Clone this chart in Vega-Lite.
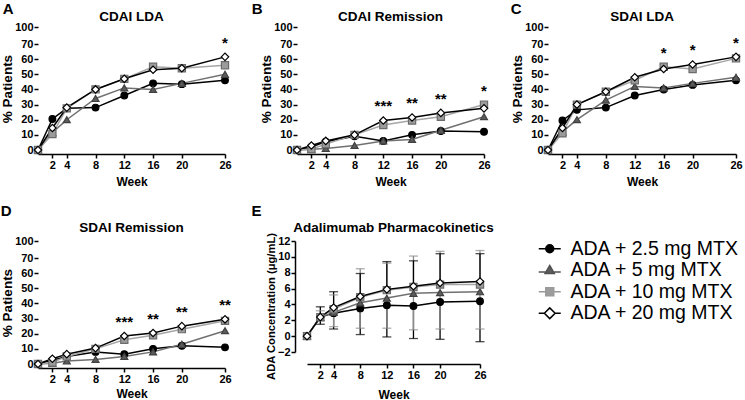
{
"$schema":"https://vega.github.io/schema/vega-lite/v6.json",
"padding":{"left":0,"top":1,"right":0,"bottom":0},
"spacing":16,
"resolve":{"scale":{"color":"independent","fill":"independent","stroke":"independent","shape":"independent","size":"independent"}},
"datasets":{
"pctA":[
{"series":"ADA + 2.5 mg MTX","week":0,"value":0},{"series":"ADA + 2.5 mg MTX","week":2,"value":20.5},{"series":"ADA + 2.5 mg MTX","week":4,"value":27.5},{"series":"ADA + 2.5 mg MTX","week":8,"value":28},{"series":"ADA + 2.5 mg MTX","week":12,"value":36},{"series":"ADA + 2.5 mg MTX","week":16,"value":44},{"series":"ADA + 2.5 mg MTX","week":20,"value":43.5},{"series":"ADA + 2.5 mg MTX","week":26,"value":46},
{"series":"ADA + 5 mg MTX","week":0,"value":0},{"series":"ADA + 5 mg MTX","week":2,"value":11.5},{"series":"ADA + 5 mg MTX","week":4,"value":20},{"series":"ADA + 5 mg MTX","week":8,"value":34},{"series":"ADA + 5 mg MTX","week":12,"value":41},{"series":"ADA + 5 mg MTX","week":16,"value":40},{"series":"ADA + 5 mg MTX","week":20,"value":44},{"series":"ADA + 5 mg MTX","week":26,"value":50},
{"series":"ADA + 10 mg MTX","week":0,"value":0},{"series":"ADA + 10 mg MTX","week":2,"value":10.5},{"series":"ADA + 10 mg MTX","week":4,"value":27.5},{"series":"ADA + 10 mg MTX","week":8,"value":40},{"series":"ADA + 10 mg MTX","week":12,"value":47},{"series":"ADA + 10 mg MTX","week":16,"value":55},{"series":"ADA + 10 mg MTX","week":20,"value":54},{"series":"ADA + 10 mg MTX","week":26,"value":56},
{"series":"ADA + 20 mg MTX","week":0,"value":0},{"series":"ADA + 20 mg MTX","week":2,"value":14.5},{"series":"ADA + 20 mg MTX","week":4,"value":28},{"series":"ADA + 20 mg MTX","week":8,"value":40},{"series":"ADA + 20 mg MTX","week":12,"value":47},{"series":"ADA + 20 mg MTX","week":16,"value":53},{"series":"ADA + 20 mg MTX","week":20,"value":54},{"series":"ADA + 20 mg MTX","week":26,"value":61.5}
],
"pctB":[
{"series":"ADA + 2.5 mg MTX","week":0,"value":0},{"series":"ADA + 2.5 mg MTX","week":2,"value":2},{"series":"ADA + 2.5 mg MTX","week":4,"value":5.5},{"series":"ADA + 2.5 mg MTX","week":8,"value":9},{"series":"ADA + 2.5 mg MTX","week":12,"value":6},{"series":"ADA + 2.5 mg MTX","week":16,"value":10},{"series":"ADA + 2.5 mg MTX","week":20,"value":12.5},{"series":"ADA + 2.5 mg MTX","week":26,"value":12},
{"series":"ADA + 5 mg MTX","week":0,"value":0},{"series":"ADA + 5 mg MTX","week":2,"value":0.5},{"series":"ADA + 5 mg MTX","week":4,"value":1},{"series":"ADA + 5 mg MTX","week":8,"value":3},{"series":"ADA + 5 mg MTX","week":12,"value":6},{"series":"ADA + 5 mg MTX","week":16,"value":7},{"series":"ADA + 5 mg MTX","week":20,"value":13},{"series":"ADA + 5 mg MTX","week":26,"value":22},
{"series":"ADA + 10 mg MTX","week":0,"value":0},{"series":"ADA + 10 mg MTX","week":2,"value":0.5},{"series":"ADA + 10 mg MTX","week":4,"value":4},{"series":"ADA + 10 mg MTX","week":8,"value":10},{"series":"ADA + 10 mg MTX","week":12,"value":16.5},{"series":"ADA + 10 mg MTX","week":16,"value":19.5},{"series":"ADA + 10 mg MTX","week":20,"value":22},{"series":"ADA + 10 mg MTX","week":26,"value":30},
{"series":"ADA + 20 mg MTX","week":0,"value":0},{"series":"ADA + 20 mg MTX","week":2,"value":3},{"series":"ADA + 20 mg MTX","week":4,"value":6},{"series":"ADA + 20 mg MTX","week":8,"value":10},{"series":"ADA + 20 mg MTX","week":12,"value":19.5},{"series":"ADA + 20 mg MTX","week":16,"value":21.5},{"series":"ADA + 20 mg MTX","week":20,"value":24.5},{"series":"ADA + 20 mg MTX","week":26,"value":27.5}
],
"pctC":[
{"series":"ADA + 2.5 mg MTX","week":0,"value":0},{"series":"ADA + 2.5 mg MTX","week":2,"value":19.5},{"series":"ADA + 2.5 mg MTX","week":4,"value":26.5},{"series":"ADA + 2.5 mg MTX","week":8,"value":28},{"series":"ADA + 2.5 mg MTX","week":12,"value":36},{"series":"ADA + 2.5 mg MTX","week":16,"value":40},{"series":"ADA + 2.5 mg MTX","week":20,"value":43},{"series":"ADA + 2.5 mg MTX","week":26,"value":46},
{"series":"ADA + 5 mg MTX","week":0,"value":0},{"series":"ADA + 5 mg MTX","week":2,"value":12},{"series":"ADA + 5 mg MTX","week":4,"value":20},{"series":"ADA + 5 mg MTX","week":8,"value":33},{"series":"ADA + 5 mg MTX","week":12,"value":42},{"series":"ADA + 5 mg MTX","week":16,"value":41},{"series":"ADA + 5 mg MTX","week":20,"value":44},{"series":"ADA + 5 mg MTX","week":26,"value":48},
{"series":"ADA + 10 mg MTX","week":0,"value":0},{"series":"ADA + 10 mg MTX","week":2,"value":11},{"series":"ADA + 10 mg MTX","week":4,"value":30},{"series":"ADA + 10 mg MTX","week":8,"value":38.5},{"series":"ADA + 10 mg MTX","week":12,"value":46},{"series":"ADA + 10 mg MTX","week":16,"value":55},{"series":"ADA + 10 mg MTX","week":20,"value":53.5},{"series":"ADA + 10 mg MTX","week":26,"value":60.5},
{"series":"ADA + 20 mg MTX","week":0,"value":0},{"series":"ADA + 20 mg MTX","week":2,"value":14.5},{"series":"ADA + 20 mg MTX","week":4,"value":30},{"series":"ADA + 20 mg MTX","week":8,"value":38.5},{"series":"ADA + 20 mg MTX","week":12,"value":48},{"series":"ADA + 20 mg MTX","week":16,"value":53.5},{"series":"ADA + 20 mg MTX","week":20,"value":56.5},{"series":"ADA + 20 mg MTX","week":26,"value":61.5}
],
"pctD":[
{"series":"ADA + 2.5 mg MTX","week":0,"value":0},{"series":"ADA + 2.5 mg MTX","week":2,"value":2.5},{"series":"ADA + 2.5 mg MTX","week":4,"value":5},{"series":"ADA + 2.5 mg MTX","week":8,"value":8},{"series":"ADA + 2.5 mg MTX","week":12,"value":6.5},{"series":"ADA + 2.5 mg MTX","week":16,"value":10},{"series":"ADA + 2.5 mg MTX","week":20,"value":12},{"series":"ADA + 2.5 mg MTX","week":26,"value":11},
{"series":"ADA + 5 mg MTX","week":0,"value":0},{"series":"ADA + 5 mg MTX","week":2,"value":0.5},{"series":"ADA + 5 mg MTX","week":4,"value":2},{"series":"ADA + 5 mg MTX","week":8,"value":3},{"series":"ADA + 5 mg MTX","week":12,"value":5},{"series":"ADA + 5 mg MTX","week":16,"value":8},{"series":"ADA + 5 mg MTX","week":20,"value":13},{"series":"ADA + 5 mg MTX","week":26,"value":22},
{"series":"ADA + 10 mg MTX","week":0,"value":0},{"series":"ADA + 10 mg MTX","week":2,"value":1},{"series":"ADA + 10 mg MTX","week":4,"value":5},{"series":"ADA + 10 mg MTX","week":8,"value":10},{"series":"ADA + 10 mg MTX","week":12,"value":16},{"series":"ADA + 10 mg MTX","week":16,"value":19},{"series":"ADA + 10 mg MTX","week":20,"value":23},{"series":"ADA + 10 mg MTX","week":26,"value":28.5},
{"series":"ADA + 20 mg MTX","week":0,"value":0},{"series":"ADA + 20 mg MTX","week":2,"value":3.5},{"series":"ADA + 20 mg MTX","week":4,"value":6.5},{"series":"ADA + 20 mg MTX","week":8,"value":10.5},{"series":"ADA + 20 mg MTX","week":12,"value":18.5},{"series":"ADA + 20 mg MTX","week":16,"value":20.5},{"series":"ADA + 20 mg MTX","week":20,"value":25},{"series":"ADA + 20 mg MTX","week":26,"value":29.5}
],
"starsA":[{"week":26,"stars":"*"}],
"starsB":[{"week":12,"stars":"***"},{"week":16,"stars":"**"},{"week":20,"stars":"**"},{"week":26,"stars":"*"}],
"starsC":[{"week":16,"stars":"*"},{"week":20,"stars":"*"},{"week":26,"stars":"*"}],
"starsD":[{"week":12,"stars":"***"},{"week":16,"stars":"**"},{"week":20,"stars":"**"},{"week":26,"stars":"**"}],
"pk":[
{"series":"ADA + 2.5 mg MTX","week":0,"mean":0,"err":null},{"series":"ADA + 2.5 mg MTX","week":2,"mean":2.4,"err":1.5},{"series":"ADA + 2.5 mg MTX","week":4,"mean":2.9,"err":0.9},{"series":"ADA + 2.5 mg MTX","week":8,"mean":3.5,"err":0.2},{"series":"ADA + 2.5 mg MTX","week":12,"mean":3.9,"err":-0.1},{"series":"ADA + 2.5 mg MTX","week":16,"mean":3.8,"err":-0.3},{"series":"ADA + 2.5 mg MTX","week":20,"mean":4.3,"err":-0.4},{"series":"ADA + 2.5 mg MTX","week":26,"mean":4.4,"err":-0.7},
{"series":"ADA + 5 mg MTX","week":0,"mean":0,"err":null},{"series":"ADA + 5 mg MTX","week":2,"mean":2.4,"err":1.9},{"series":"ADA + 5 mg MTX","week":4,"mean":3.0,"err":1.2},{"series":"ADA + 5 mg MTX","week":8,"mean":4.2,"err":1.0},{"series":"ADA + 5 mg MTX","week":12,"mean":4.8,"err":1.0},{"series":"ADA + 5 mg MTX","week":16,"mean":5.4,"err":0.8},{"series":"ADA + 5 mg MTX","week":20,"mean":5.5,"err":0.9},{"series":"ADA + 5 mg MTX","week":26,"mean":5.6,"err":0.9},
{"series":"ADA + 10 mg MTX","week":0,"mean":0,"err":null},{"series":"ADA + 10 mg MTX","week":2,"mean":2.4,"err":3.2},{"series":"ADA + 10 mg MTX","week":4,"mean":3.4,"err":5.2},{"series":"ADA + 10 mg MTX","week":8,"mean":4.9,"err":8.5},{"series":"ADA + 10 mg MTX","week":12,"mean":5.8,"err":9.2},{"series":"ADA + 10 mg MTX","week":16,"mean":6.2,"err":10.1},{"series":"ADA + 10 mg MTX","week":20,"mean":6.5,"err":10.7},{"series":"ADA + 10 mg MTX","week":26,"mean":6.5,"err":10.8},
{"series":"ADA + 20 mg MTX","week":0,"mean":0,"err":null},{"series":"ADA + 20 mg MTX","week":2,"mean":2.4,"err":3.7},{"series":"ADA + 20 mg MTX","week":4,"mean":3.6,"err":5.6},{"series":"ADA + 20 mg MTX","week":8,"mean":5.0,"err":7.9},{"series":"ADA + 20 mg MTX","week":12,"mean":5.9,"err":9.4},{"series":"ADA + 20 mg MTX","week":16,"mean":6.3,"err":9.5},{"series":"ADA + 20 mg MTX","week":20,"mean":6.7,"err":10.4},{"series":"ADA + 20 mg MTX","week":26,"mean":6.9,"err":10.4}
]
},
"vconcat":[
{"hconcat":[
{"title":{"text":"A","anchor":"start","frame":"bounds","fontSize":15,"offset":-7,"dx":2},
 "resolve":{"scale":{"color":"independent","fill":"independent","stroke":"independent","shape":"independent","size":"independent"}},
 "vconcat":[{
  "title":{"text":"CDAI LDA","fontSize":13.5,"offset":-2},
  "width":187,"height":123,
  "data":{"name":"pctA"},
  "encoding":{
   "x":{"field":"week","type":"quantitative","scale":{"domain":[0,26],"nice":false,"zero":false},"axis":{"values":[2,4,8,12,16,20,26],"title":"Week","offset":4,"titlePadding":6}},
   "y":{"field":"value","type":"quantitative","scale":{"domain":[0,70,100],"range":[123,17,0],"nice":false,"zero":false},"axis":{"values":[0,10,20,30,40,50,60,70,100],"title":"% Patients","titleFontSize":13.5,"domain":false,"titlePadding":0}}
  },
  "layer":[
   {"data":{"values":[{}]},"mark":{"type":"rule","color":"black","strokeWidth":1.5},"encoding":{"x":{"datum":0},"y":{"datum":0},"y2":{"datum":70}}},
   {"data":{"values":[{}]},"mark":{"type":"rule","color":"black","strokeWidth":1.5},"encoding":{"x":{"datum":0},"y":{"datum":93},"y2":{"datum":100}}},
   {"mark":{"type":"line","strokeWidth":1.5},"encoding":{"color":{"field":"series","type":"nominal","scale":{"domain":["ADA + 2.5 mg MTX","ADA + 5 mg MTX","ADA + 10 mg MTX","ADA + 20 mg MTX"],"range":["#000000","#707070","#a6a6a6","#000000"]},"legend":null}}},
   {"mark":{"type":"point","filled":true,"opacity":1,"strokeWidth":1.2},"encoding":{
     "shape":{"field":"series","type":"nominal","scale":{"domain":["ADA + 2.5 mg MTX","ADA + 5 mg MTX","ADA + 10 mg MTX","ADA + 20 mg MTX"],"range":["circle","triangle-up","square","diamond"]},"legend":null},
     "fill":{"field":"series","type":"nominal","scale":{"domain":["ADA + 2.5 mg MTX","ADA + 5 mg MTX","ADA + 10 mg MTX","ADA + 20 mg MTX"],"range":["#000000","#5c5c5c","#9c9c9c","#ffffff"]},"legend":null},
     "stroke":{"field":"series","type":"nominal","scale":{"domain":["ADA + 2.5 mg MTX","ADA + 5 mg MTX","ADA + 10 mg MTX","ADA + 20 mg MTX"],"range":["#000000","#404040","#6c6c6c","#000000"]},"legend":null},
     "size":{"field":"series","type":"nominal","scale":{"domain":["ADA + 2.5 mg MTX","ADA + 5 mg MTX","ADA + 10 mg MTX","ADA + 20 mg MTX"],"range":[45,55,49,80]},"legend":null}}},
   {"transform":[{"aggregate":[{"op":"max","field":"value","as":"top"}],"groupby":["week"]},{"lookup":"week","from":{"data":{"name":"starsA"},"key":"week","fields":["stars"]}},{"filter":"datum.stars != null"}],
    "mark":{"type":"text","fontSize":15,"fontWeight":"bold","dy":-9,"baseline":"alphabetic","color":"black"},"encoding":{"y":{"field":"top","type":"quantitative"},"text":{"field":"stars"}}}
  ]
 }]
},
{"title":{"text":"B","anchor":"start","frame":"bounds","fontSize":15,"offset":-7,"dx":-8},
 "resolve":{"scale":{"color":"independent","fill":"independent","stroke":"independent","shape":"independent","size":"independent"}},
 "vconcat":[{
  "title":{"text":"CDAI Remission","fontSize":13.5,"offset":-2},
  "width":187,"height":123,
  "data":{"name":"pctB"},
  "encoding":{
   "x":{"field":"week","type":"quantitative","scale":{"domain":[0,26],"nice":false,"zero":false},"axis":{"values":[2,4,8,12,16,20,26],"title":"Week","offset":4,"titlePadding":6}},
   "y":{"field":"value","type":"quantitative","scale":{"domain":[0,70,100],"range":[123,17,0],"nice":false,"zero":false},"axis":{"values":[0,10,20,30,40,50,60,70,100],"title":"% Patients","titleFontSize":13.5,"domain":false,"titlePadding":0}}
  },
  "layer":[
   {"data":{"values":[{}]},"mark":{"type":"rule","color":"black","strokeWidth":1.5},"encoding":{"x":{"datum":0},"y":{"datum":0},"y2":{"datum":70}}},
   {"data":{"values":[{}]},"mark":{"type":"rule","color":"black","strokeWidth":1.5},"encoding":{"x":{"datum":0},"y":{"datum":93},"y2":{"datum":100}}},
   {"mark":{"type":"line","strokeWidth":1.5},"encoding":{"color":{"field":"series","type":"nominal","scale":{"domain":["ADA + 2.5 mg MTX","ADA + 5 mg MTX","ADA + 10 mg MTX","ADA + 20 mg MTX"],"range":["#000000","#707070","#a6a6a6","#000000"]},"legend":null}}},
   {"mark":{"type":"point","filled":true,"opacity":1,"strokeWidth":1.2},"encoding":{
     "shape":{"field":"series","type":"nominal","scale":{"domain":["ADA + 2.5 mg MTX","ADA + 5 mg MTX","ADA + 10 mg MTX","ADA + 20 mg MTX"],"range":["circle","triangle-up","square","diamond"]},"legend":null},
     "fill":{"field":"series","type":"nominal","scale":{"domain":["ADA + 2.5 mg MTX","ADA + 5 mg MTX","ADA + 10 mg MTX","ADA + 20 mg MTX"],"range":["#000000","#5c5c5c","#9c9c9c","#ffffff"]},"legend":null},
     "stroke":{"field":"series","type":"nominal","scale":{"domain":["ADA + 2.5 mg MTX","ADA + 5 mg MTX","ADA + 10 mg MTX","ADA + 20 mg MTX"],"range":["#000000","#404040","#6c6c6c","#000000"]},"legend":null},
     "size":{"field":"series","type":"nominal","scale":{"domain":["ADA + 2.5 mg MTX","ADA + 5 mg MTX","ADA + 10 mg MTX","ADA + 20 mg MTX"],"range":[45,55,49,80]},"legend":null}}},
   {"transform":[{"aggregate":[{"op":"max","field":"value","as":"top"}],"groupby":["week"]},{"lookup":"week","from":{"data":{"name":"starsB"},"key":"week","fields":["stars"]}},{"filter":"datum.stars != null"}],
    "mark":{"type":"text","fontSize":15,"fontWeight":"bold","dy":-9,"baseline":"alphabetic","color":"black"},"encoding":{"y":{"field":"top","type":"quantitative"},"text":{"field":"stars"}}}
  ]
 }]
},
{"title":{"text":"C","anchor":"start","frame":"bounds","fontSize":15,"offset":-7,"dx":0},
 "resolve":{"scale":{"color":"independent","fill":"independent","stroke":"independent","shape":"independent","size":"independent"}},
 "vconcat":[{
  "title":{"text":"SDAI LDA","fontSize":13.5,"offset":-2},
  "width":188,"height":123,
  "data":{"name":"pctC"},
  "encoding":{
   "x":{"field":"week","type":"quantitative","scale":{"domain":[0,26],"nice":false,"zero":false},"axis":{"values":[2,4,8,12,16,20,26],"title":"Week","offset":4,"titlePadding":6}},
   "y":{"field":"value","type":"quantitative","scale":{"domain":[0,70,100],"range":[123,17,0],"nice":false,"zero":false},"axis":{"values":[0,10,20,30,40,50,60,70,100],"title":"% Patients","titleFontSize":13.5,"domain":false,"titlePadding":0}}
  },
  "layer":[
   {"data":{"values":[{}]},"mark":{"type":"rule","color":"black","strokeWidth":1.5},"encoding":{"x":{"datum":0},"y":{"datum":0},"y2":{"datum":70}}},
   {"data":{"values":[{}]},"mark":{"type":"rule","color":"black","strokeWidth":1.5},"encoding":{"x":{"datum":0},"y":{"datum":93},"y2":{"datum":100}}},
   {"mark":{"type":"line","strokeWidth":1.5},"encoding":{"color":{"field":"series","type":"nominal","scale":{"domain":["ADA + 2.5 mg MTX","ADA + 5 mg MTX","ADA + 10 mg MTX","ADA + 20 mg MTX"],"range":["#000000","#707070","#a6a6a6","#000000"]},"legend":null}}},
   {"mark":{"type":"point","filled":true,"opacity":1,"strokeWidth":1.2},"encoding":{
     "shape":{"field":"series","type":"nominal","scale":{"domain":["ADA + 2.5 mg MTX","ADA + 5 mg MTX","ADA + 10 mg MTX","ADA + 20 mg MTX"],"range":["circle","triangle-up","square","diamond"]},"legend":null},
     "fill":{"field":"series","type":"nominal","scale":{"domain":["ADA + 2.5 mg MTX","ADA + 5 mg MTX","ADA + 10 mg MTX","ADA + 20 mg MTX"],"range":["#000000","#5c5c5c","#9c9c9c","#ffffff"]},"legend":null},
     "stroke":{"field":"series","type":"nominal","scale":{"domain":["ADA + 2.5 mg MTX","ADA + 5 mg MTX","ADA + 10 mg MTX","ADA + 20 mg MTX"],"range":["#000000","#404040","#6c6c6c","#000000"]},"legend":null},
     "size":{"field":"series","type":"nominal","scale":{"domain":["ADA + 2.5 mg MTX","ADA + 5 mg MTX","ADA + 10 mg MTX","ADA + 20 mg MTX"],"range":[45,55,49,80]},"legend":null}}},
   {"transform":[{"aggregate":[{"op":"max","field":"value","as":"top"}],"groupby":["week"]},{"lookup":"week","from":{"data":{"name":"starsC"},"key":"week","fields":["stars"]}},{"filter":"datum.stars != null"}],
    "mark":{"type":"text","fontSize":15,"fontWeight":"bold","dy":-9,"baseline":"alphabetic","color":"black"},"encoding":{"y":{"field":"top","type":"quantitative"},"text":{"field":"stars"}}}
  ]
 }]
}
],"spacing":19,"resolve":{"scale":{"color":"independent","fill":"independent","stroke":"independent","shape":"independent","size":"independent"}}},
{"hconcat":[
{"title":{"text":"D","anchor":"start","frame":"bounds","fontSize":15,"offset":2,"dx":0},
 "resolve":{"scale":{"color":"independent","fill":"independent","stroke":"independent","shape":"independent","size":"independent"}},
 "vconcat":[{
  "title":{"text":"SDAI Remission","fontSize":13.5,"offset":1},
  "width":187,"height":123,
  "data":{"name":"pctD"},
  "encoding":{
   "x":{"field":"week","type":"quantitative","scale":{"domain":[0,26],"nice":false,"zero":false},"axis":{"values":[2,4,8,12,16,20,26],"title":"Week","offset":4,"titlePadding":4}},
   "y":{"field":"value","type":"quantitative","scale":{"domain":[0,70,100],"range":[123,17,0],"nice":false,"zero":false},"axis":{"values":[0,10,20,30,40,50,60,70,100],"title":"% Patients","titleFontSize":13.5,"domain":false,"titlePadding":0}}
  },
  "layer":[
   {"data":{"values":[{}]},"mark":{"type":"rule","color":"black","strokeWidth":1.5},"encoding":{"x":{"datum":0},"y":{"datum":0},"y2":{"datum":70}}},
   {"data":{"values":[{}]},"mark":{"type":"rule","color":"black","strokeWidth":1.5},"encoding":{"x":{"datum":0},"y":{"datum":93},"y2":{"datum":100}}},
   {"mark":{"type":"line","strokeWidth":1.5},"encoding":{"color":{"field":"series","type":"nominal","scale":{"domain":["ADA + 2.5 mg MTX","ADA + 5 mg MTX","ADA + 10 mg MTX","ADA + 20 mg MTX"],"range":["#000000","#707070","#a6a6a6","#000000"]},"legend":null}}},
   {"mark":{"type":"point","filled":true,"opacity":1,"strokeWidth":1.2},"encoding":{
     "shape":{"field":"series","type":"nominal","scale":{"domain":["ADA + 2.5 mg MTX","ADA + 5 mg MTX","ADA + 10 mg MTX","ADA + 20 mg MTX"],"range":["circle","triangle-up","square","diamond"]},"legend":null},
     "fill":{"field":"series","type":"nominal","scale":{"domain":["ADA + 2.5 mg MTX","ADA + 5 mg MTX","ADA + 10 mg MTX","ADA + 20 mg MTX"],"range":["#000000","#5c5c5c","#9c9c9c","#ffffff"]},"legend":null},
     "stroke":{"field":"series","type":"nominal","scale":{"domain":["ADA + 2.5 mg MTX","ADA + 5 mg MTX","ADA + 10 mg MTX","ADA + 20 mg MTX"],"range":["#000000","#404040","#6c6c6c","#000000"]},"legend":null},
     "size":{"field":"series","type":"nominal","scale":{"domain":["ADA + 2.5 mg MTX","ADA + 5 mg MTX","ADA + 10 mg MTX","ADA + 20 mg MTX"],"range":[45,55,49,80]},"legend":null}}},
   {"transform":[{"aggregate":[{"op":"max","field":"value","as":"top"}],"groupby":["week"]},{"lookup":"week","from":{"data":{"name":"starsD"},"key":"week","fields":["stars"]}},{"filter":"datum.stars != null"}],
    "mark":{"type":"text","fontSize":15,"fontWeight":"bold","dy":-9,"baseline":"alphabetic","color":"black"},"encoding":{"y":{"field":"top","type":"quantitative"},"text":{"field":"stars"}}}
  ]
 }]
},
{"title":{"text":"E","anchor":"start","frame":"bounds","fontSize":15,"offset":2,"dx":-14},
 "resolve":{"scale":{"color":"independent","fill":"independent","stroke":"independent","shape":"independent","size":"independent"}},
 "vconcat":[{
  "title":{"text":"Adalimumab Pharmacokinetics","fontSize":13.5,"offset":-2},
  "width":173,"height":111,
  "data":{"name":"pk"},
  "encoding":{
   "x":{"field":"week","type":"quantitative","scale":{"domain":[0,26],"nice":false,"zero":false},"axis":{"values":[2,4,8,12,16,20,26],"title":"Week","offset":12,"titlePadding":9}},
   "y":{"field":"mean","type":"quantitative","scale":{"domain":[-2,12],"nice":false,"zero":false},"axis":{"values":[-2,0,2,4,6,8,10,12],"title":"ADA Concentration (μg/mL)","titleFontSize":11.2,"offset":12,"titlePadding":1,"titleY":65}}
  },
  "layer":[
   {"data":{"values":[{}]},"mark":{"type":"rule","color":"black","strokeWidth":1.3,"strokeDash":[5,3]},"encoding":{"y":{"datum":0}}},
   {"transform":[{"filter":"datum.err != null"}],"mark":{"type":"rule","strokeWidth":1.3},"encoding":{"y2":{"field":"err"},"color":{"field":"series","type":"nominal","scale":{"domain":["ADA + 2.5 mg MTX","ADA + 5 mg MTX","ADA + 10 mg MTX","ADA + 20 mg MTX"],"range":["#000000","#8a8a8a","#8a8a8a","#000000"]},"legend":null}}},
   {"transform":[{"filter":"datum.err != null"}],"mark":{"type":"tick","orient":"horizontal","size":9,"thickness":1.3},"encoding":{"y":{"field":"err","type":"quantitative"},"color":{"field":"series","type":"nominal","scale":{"domain":["ADA + 2.5 mg MTX","ADA + 5 mg MTX","ADA + 10 mg MTX","ADA + 20 mg MTX"],"range":["#000000","#8a8a8a","#8a8a8a","#000000"]},"legend":null}}},
   {"mark":{"type":"line","strokeWidth":1.5},"encoding":{"color":{"field":"series","type":"nominal","scale":{"domain":["ADA + 2.5 mg MTX","ADA + 5 mg MTX","ADA + 10 mg MTX","ADA + 20 mg MTX"],"range":["#000000","#707070","#a6a6a6","#000000"]},"legend":null}}},
   {"mark":{"type":"point","filled":true,"opacity":1,"strokeWidth":1.2},"encoding":{
     "shape":{"field":"series","type":"nominal","scale":{"domain":["ADA + 2.5 mg MTX","ADA + 5 mg MTX","ADA + 10 mg MTX","ADA + 20 mg MTX"],"range":["circle","triangle-up","square","diamond"]},"legend":null},
     "fill":{"field":"series","type":"nominal","scale":{"domain":["ADA + 2.5 mg MTX","ADA + 5 mg MTX","ADA + 10 mg MTX","ADA + 20 mg MTX"],"range":["#000000","#5c5c5c","#9c9c9c","#ffffff"]},"legend":null},
     "stroke":{"field":"series","type":"nominal","scale":{"domain":["ADA + 2.5 mg MTX","ADA + 5 mg MTX","ADA + 10 mg MTX","ADA + 20 mg MTX"],"range":["#000000","#404040","#6c6c6c","#000000"]},"legend":null},
     "size":{"field":"series","type":"nominal","scale":{"domain":["ADA + 2.5 mg MTX","ADA + 5 mg MTX","ADA + 10 mg MTX","ADA + 20 mg MTX"],"range":[45,55,49,80]},"legend":null}}},
   {"transform":[{"filter":"false"}],"mark":{"type":"point","filled":true,"opacity":1,"strokeWidth":1.5,"size":64},"encoding":{
     "shape":{"field":"series","type":"nominal","scale":{"domain":["ADA + 2.5 mg MTX","ADA + 5 mg MTX","ADA + 10 mg MTX","ADA + 20 mg MTX"],"range":["M-2.75,0H-1M1,0H2.75M-1,0A1,1,0,1,0,1,0A1,1,0,1,0,-1,0Z","M-2.75,0.45H-1.1M1.1,0.45H2.75M-1.15,0.8L0,-1.2L1.15,0.8Z","M-2.75,0H-1M1,0H2.75M-1,-1H1V1H-1Z","M-2.75,0H-1.35M1.35,0H2.75M-1.35,0L0,-1.35L1.35,0L0,1.35Z"]},
       "legend":{"title":null,"orient":"none","legendX":233,"legendY":-2,"labelFontSize":19.5,"labelFont":"Liberation Sans","labelColor":"black","labelLimit":300,"symbolSize":64,"symbolStrokeWidth":1.5,"labelOffset":11,"rowPadding":0.5,"padding":0}},
     "fill":{"field":"series","type":"nominal","scale":{"domain":["ADA + 2.5 mg MTX","ADA + 5 mg MTX","ADA + 10 mg MTX","ADA + 20 mg MTX"],"range":["#000000","#5c5c5c","#9c9c9c","#ffffff"]},
       "legend":{"title":null,"orient":"none","legendX":233,"legendY":-2,"labelFontSize":19.5,"labelFont":"Liberation Sans","labelColor":"black","labelLimit":300,"symbolSize":64,"symbolStrokeWidth":1.5,"labelOffset":11,"rowPadding":0.5,"padding":0}},
     "stroke":{"field":"series","type":"nominal","scale":{"domain":["ADA + 2.5 mg MTX","ADA + 5 mg MTX","ADA + 10 mg MTX","ADA + 20 mg MTX"],"range":["#000000","#505050","#9a9a9a","#000000"]},
       "legend":{"title":null,"orient":"none","legendX":233,"legendY":-2,"labelFontSize":19.5,"labelFont":"Liberation Sans","labelColor":"black","labelLimit":300,"symbolSize":64,"symbolStrokeWidth":1.5,"labelOffset":11,"rowPadding":0.5,"padding":0}}}}
  ],
  "resolve":{"scale":{"color":"independent","fill":"independent","stroke":"independent","shape":"independent","size":"independent"}}
 }]
}
],"spacing":19,"resolve":{"scale":{"color":"independent","fill":"independent","stroke":"independent","shape":"independent","size":"independent"}}}
],
"config":{
 "view":{"stroke":null},
 "font":"Liberation Sans",
 "axis":{"labelFont":"Liberation Sans","labelFontSize":11,"labelFontWeight":"bold","labelColor":"black","labelFlush":false,"labelOverlap":false,"labelPadding":1,"titleFont":"Liberation Sans","titleFontSize":12,"titleFontWeight":"bold","titleColor":"black","domainColor":"black","domainWidth":1.5,"tickColor":"black","tickWidth":1.5,"tickSize":4,"grid":false},
 "title":{"font":"Liberation Sans","fontWeight":"bold","color":"black"}
}
}
